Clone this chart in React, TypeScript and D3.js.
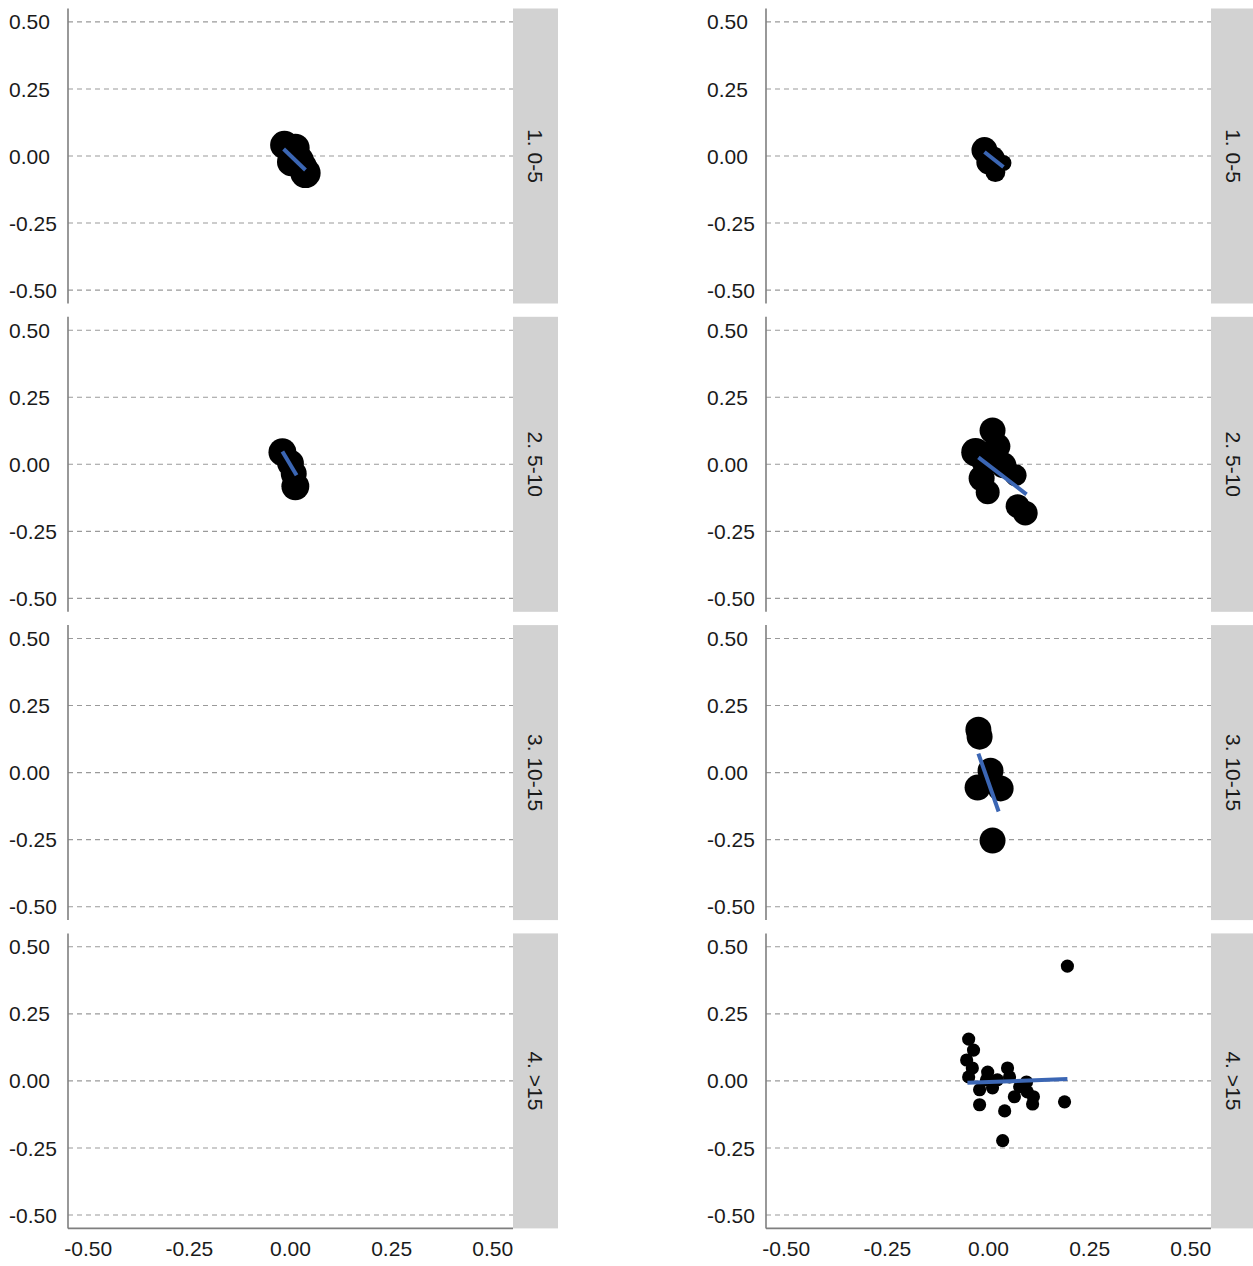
import React from "react";
import * as d3 from "d3";

const rowLabels = ["1. 0-5", "2. 5-10", "3. 10-15", "4. >15"];
const axisTicks = [-0.5, -0.25, 0, 0.25, 0.5];

// points: [x, y, weight]
const left1: number[][] = [
  [-0.015, 0.041, 80], [0.012, 0.030, 80], [0.022, -0.015, 80], [0.002, -0.022, 80], [0.037, -0.063, 90],
  [0.030, -0.040, 80],
];
const left2: number[][] = [
  [-0.020, 0.045, 76], [0.0, 0.004, 70], [0.008, -0.035, 66], [0.012, -0.082, 76],
];
const left3: number[][] = [];
const left4: number[][] = [];

const right1: number[][] = [
  [-0.010, 0.022, 66], [0.002, -0.022, 66], [0.017, -0.060, 39], [0.037, -0.026, 25], [0.010, -0.010, 60],
];
const right2: number[][] = [
  [0.010, 0.126, 66], [0.022, 0.067, 66], [-0.032, 0.045, 80], [-0.017, -0.052, 66],
  [-0.002, -0.104, 56], [0.037, -0.004, 66], [0.067, -0.041, 47], [0.072, -0.156, 56], [0.091, -0.182, 60],
  [-0.010, 0.010, 66],
];
const right3: number[][] = [
  [-0.025, 0.160, 66], [-0.022, 0.134, 66], [0.005, 0.007, 66], [-0.027, -0.056, 66],
  [0.030, -0.059, 66], [0.010, -0.253, 66],
];
const right4: number[][] = [
  [0.195, 0.428, 17], [-0.049, 0.156, 17], [-0.037, 0.115, 17], [-0.054, 0.078, 17], [-0.040, 0.048, 17],
  [-0.049, 0.015, 17], [-0.002, 0.033, 17], [0.047, 0.048, 17], [-0.022, -0.033, 17], [0.010, -0.026, 17],
  [-0.005, 0.004, 17], [0.022, 0.004, 17], [-0.022, -0.089, 17], [0.040, -0.112, 17], [0.035, -0.223, 17],
  [0.064, -0.059, 17], [0.094, -0.004, 17], [0.096, -0.041, 17], [0.111, -0.059, 17], [0.109, -0.086, 17],
  [0.188, -0.078, 17], [0.052, 0.015, 17], [0.077, -0.022, 17],
];

// fitted lines: [x0, y0, x1, y1] or null
const leftFits: (number[] | null)[] = [
  [-0.017, 0.026, 0.037, -0.052],
  [-0.020, 0.048, 0.015, -0.041],
  null,
  null,
];
const rightFits: (number[] | null)[] = [
  [-0.010, 0.015, 0.037, -0.041],
  [-0.025, 0.026, 0.094, -0.112],
  [-0.025, 0.071, 0.025, -0.145],
  [-0.052, -0.007, 0.195, 0.007],
];

const leftPoints = [left1, left2, left3, left4];
const rightPoints = [right1, right2, right3, right4];

const W = 1253;
const H = 1266;
const colX = [68, 766];
const panelW = 445;
const panelH = 295;
const stripW = 45;
const rowTop0 = 8.5;
const rowStep = 308.3;
const domain: [number, number] = [-0.55, 0.55];
const font = "'Liberation Sans', Arial, Helvetica, sans-serif";
const fmt = (v: number) => d3.format(".2f")(v).replace("\u2212", "-");

export default function App() {
  const rScale = d3.scaleSqrt().domain([0, 100]).range([0, 16]);
  const panels: React.ReactNode[] = [];
  [0, 1].forEach((c) => {
    const pts = c === 0 ? leftPoints : rightPoints;
    const fits = c === 0 ? leftFits : rightFits;
    rowLabels.forEach((lab, r) => {
      const x0 = colX[c];
      const y0 = rowTop0 + r * rowStep;
      const xs = d3.scaleLinear().domain(domain).range([x0, x0 + panelW]);
      const ys = d3.scaleLinear().domain(domain).range([y0 + panelH, y0]);
      const fit = fits[r];
      const line = d3.line<number[]>().x((d) => xs(d[0])).y((d) => ys(d[1]));
      panels.push(
        <g key={`p${c}-${r}`}>
          {axisTicks.map((t) => (
            <line key={`g${t}`} x1={x0} x2={x0 + panelW} y1={ys(t)} y2={ys(t)}
              stroke="#9a9a9a" strokeWidth={1.1} strokeDasharray="5,4" />
          ))}
          {axisTicks.map((t) => (
            <text key={`yl${t}`} x={x0 - 59} y={ys(t)} dy="0.36em" textAnchor="start"
              fontFamily={font} fontSize={21} fill="#1a1a1a">{fmt(t)}</text>
          ))}
          {pts[r].map((p, i) => (
            <circle key={`c${i}`} cx={xs(p[0])} cy={ys(p[1])} r={rScale(p[2])} fill="#000" />
          ))}
          {fit && (
            <path d={line([[fit[0], fit[1]], [fit[2], fit[3]]]) || ""} stroke="#3b66b4"
              strokeWidth={4} fill="none" />
          )}
          <line x1={x0} x2={x0} y1={y0} y2={y0 + panelH} stroke="#7f7f7f" strokeWidth={1.6} />
          {r === 3 && (
            <g>
              <line x1={x0} x2={x0 + panelW} y1={y0 + panelH} y2={y0 + panelH} stroke="#7f7f7f" strokeWidth={1.6} />
              {axisTicks.map((t) => (
                <text key={`xl${t}`} x={xs(t)} y={y0 + panelH + 28} textAnchor="middle"
                  fontFamily={font} fontSize={21} fill="#1a1a1a">{fmt(t)}</text>
              ))}
            </g>
          )}
          <rect x={x0 + panelW} y={y0} width={stripW} height={panelH} fill="#d2d2d2" />
          <text transform={`translate(${x0 + panelW + stripW / 2},${y0 + panelH / 2}) rotate(90)`}
            textAnchor="middle" dy="0.36em" fontFamily={font} fontSize={21} fill="#1a1a1a">{lab}</text>
        </g>
      );
    });
  });
  return (
    <svg width={W} height={H} style={{ position: "absolute", left: 0, top: 0, background: "#fff" }}>
      <rect x={0} y={0} width={W} height={H} fill="#fff" />
      {panels}
    </svg>
  );
}
